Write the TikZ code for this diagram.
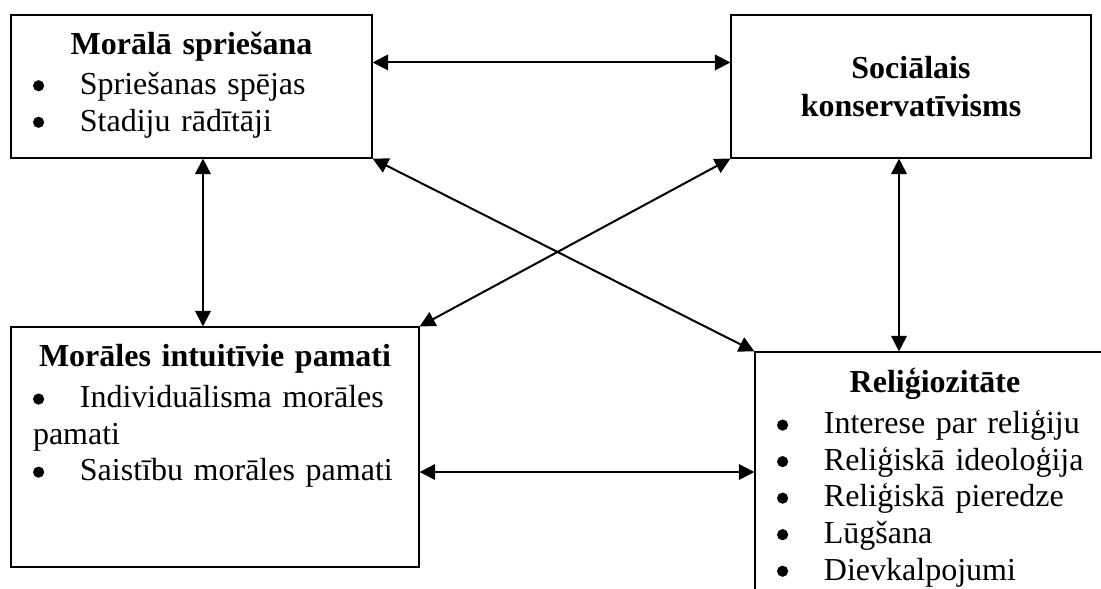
\documentclass[tikz,border=0pt]{standalone}
\usepackage{fontspec}
\setmainfont{Liberation Serif}
\usetikzlibrary{arrows.meta}
\newcommand{\bul}{\makebox[17.6pt][l]{\tikz[baseline=0pt]\fill (2.1pt,3.3pt) circle (2.1pt);}}
\newcommand{\boxtitle}[1]{\makebox[\linewidth]{\bfseries #1}}

\begin{document}
\begin{tikzpicture}[x=0.375pt,y=-0.375pt,font=\fontsize{12}{13.7}\selectfont,
        box/.style={draw,rectangle,line width=0.45pt,inner sep=0pt},
        txt/.style={anchor=base,align=left,inner sep=0pt},
        link/.style={line width=0.75pt,{Triangle[length=5.8pt,width=5.8pt]}-{Triangle[length=5.8pt,width=5.8pt]}}]
        \clip (0,0) rectangle (1101,588);
        \node[box,minimum width=135.4pt,minimum height=53.6pt] (moral) at (191.5,86.5) {};
        \node[box,minimum width=135pt,minimum height=53.6pt,align=center,font=\fontsize{12}{14.2}\selectfont\bfseries] (konserv) at (911,86.5) {Sociālais\\konservatīvisms};
        \node[box,minimum width=153pt,minimum height=90pt] (intuit) at (215,447) {};
        \node[box,minimum width=135pt,minimum height=90pt] (relig) at (935,472) {};
        
        \node[txt,text width=118.9pt] (moraltxt) at (191.5,54) {\boxtitle{Morālā spriešana}\\[1.5pt]
            \bul Spriešanas spējas\\
            \bul Stadiju rādītāji};
        \node[txt,text width=136.5pt] (intuittxt) at (215,366) {\boxtitle{Morāles intuitīvie pamati}\\[2pt]
            \bul Individuālisma morāles\\
            pamati\\
            \bul Saistību morāles pamati};
        \node[txt,text width=118.5pt] (religtxt) at (935,392) {\boxtitle{Reliģiozitāte}\\[2pt]
            \bul Interese par reliģiju\\
            \bul Reliģiskā ideoloģija\\
            \bul Reliģiskā pieredze\\
            \bul Lūgšana\\
            \bul Dievkalpojumi};
        
        \path[draw,link] ([yshift=-18pt]moral.north east) -- ([yshift=-18pt]konserv.north west);
        \path[draw,link] ([xshift=4.3pt]moral.south) -- ([xshift=4.3pt]moral.south |- intuit.north);
        \path[draw,link] ([xshift=-4.5pt]konserv.south) -- ([xshift=-4.5pt]konserv.south |- relig.north);
        \path[draw,link] (moral.south east) -- (relig.north west);
        \path[draw,link] (konserv.south west) -- (intuit.north east);
        \path[draw,link] (intuit.east |- relig.west) -- (relig.west);
\end{tikzpicture}
\end{document}
